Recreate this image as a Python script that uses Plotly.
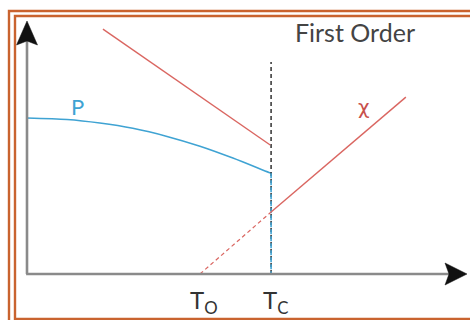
import plotly.graph_objects as go

# ---- data (conceptual units: T along x, response along y) ----
T_P = [0, 0.91, 1.66, 2.41, 3.19, 3.94, 4.69, 5.51, 5.56]
P_vals = [6.19, 6.13, 5.99, 5.78, 5.46, 5.07, 4.60, 4.03, 4.00]
Tc = 5.56
To = 3.94
chi_low_T = [1.73, 5.54]
chi_low = [9.72, 5.12]
chi_high_T = [5.56, 8.63]
chi_high = [2.46, 7.02]
chi_ext_T = [To, Tc]
chi_ext = [0, 2.46]
Tc_line_top = 8.41
tick_labels = ["T<sub>O</sub>", "T<sub>C</sub>"]
tick_pos = [To, Tc]

W, H = 470, 320
# axis scales: origin at pixel (27,274); 43.9 px per T unit, 25.2 px per y unit
X0, Y0, SX, SY = 27, 274, 43.9, 25.2
xr = [-X0 / SX, (W - X0) / SX]
yr = [-(H - Y0) / SY, Y0 / SY]

RED = "#DA6661"
BLUE = "#3FA3D3"
AX = "#8A8A8A"
ORANGE = "#C9632F"

fig = go.Figure()
fig.add_trace(go.Scatter(x=T_P, y=P_vals, mode="lines", line=dict(color=BLUE, width=1.6, shape="spline", smoothing=0.8), hoverinfo="skip"))
fig.add_trace(go.Scatter(x=[Tc, Tc], y=[0, Tc_line_top], mode="lines", line=dict(color="#222222", width=1.4, dash="4px,3px"), hoverinfo="skip"))
fig.add_trace(go.Scatter(x=[Tc, Tc], y=[P_vals[-1], 0], mode="lines", line=dict(color=BLUE, width=1.6, dash="5px,2px"), hoverinfo="skip"))
fig.add_trace(go.Scatter(x=chi_low_T, y=chi_low, mode="lines", line=dict(color=RED, width=1.4), hoverinfo="skip"))
fig.add_trace(go.Scatter(x=chi_high_T, y=chi_high, mode="lines", line=dict(color=RED, width=1.4), hoverinfo="skip"))
fig.add_trace(go.Scatter(x=chi_ext_T, y=chi_ext, mode="lines", line=dict(color=RED, width=1.2, dash="4px,3px"), hoverinfo="skip"))

def pp(x, y):
    return f"{x / W:.5f},{1 - y / H:.5f}"

shapes = []
# axes lines
shapes.append(dict(type="line", xref="x", yref="y", x0=0, y0=0, x1=0, y1=(Y0 - 40) / SY, line=dict(color=AX, width=2.6)))
shapes.append(dict(type="line", xref="x", yref="y", x0=-0.02, y0=0, x1=(450 - X0) / SX, y1=0, line=dict(color=AX, width=2.6)))
# arrowheads
shapes.append(dict(type="path", xref="paper", yref="paper",
                   path=f"M{pp(27,21)} L{pp(37.5,45)} L{pp(27,41)} L{pp(16.5,45)} Z",
                   fillcolor="#111111", line=dict(color="#111111", width=0.5)))
shapes.append(dict(type="path", xref="paper", yref="paper",
                   path=f"M{pp(467,274)} L{pp(445,263)} L{pp(449,274)} L{pp(445,285)} Z",
                   fillcolor="#111111", line=dict(color="#111111", width=0.5)))
# double orange frame
shapes.append(dict(type="path", xref="paper", yref="paper",
                   path=f"M{pp(9,330)} L{pp(9,11)} L{pp(480,11)}",
                   line=dict(color=ORANGE, width=2.4)))
shapes.append(dict(type="path", xref="paper", yref="paper",
                   path=f"M{pp(480,16)} L{pp(15,16)} L{pp(15,319)} L{pp(480,319)}",
                   line=dict(color=ORANGE, width=2.4)))

ann = []
ann.append(dict(x=355 / W, y=1 - 32 / H, xref="paper", yref="paper", xanchor="center", yanchor="middle",
                text="First Order", showarrow=False,
                font=dict(family="Lato", size=25, color="#444444")))
ann.append(dict(x=(77 - X0) / SX, y=(Y0 - 106) / SY, xanchor="center", yanchor="middle", text="P", showarrow=False,
                font=dict(family="Lato", size=22, color=BLUE)))
ann.append(dict(x=(364 - X0) / SX, y=(Y0 - 107) / SY, xanchor="center", yanchor="middle", text="χ", showarrow=False,
                font=dict(family="DejaVu Sans", size=20, color="#C8504B")))
for t, lab in zip(tick_pos, tick_labels):
    ann.append(dict(x=t + 0.1, y=-1.1, xanchor="center", yanchor="middle", text=lab, showarrow=False,
                    font=dict(family="Lato", size=24, color="#333333")))

fig.update_layout(
    width=W, height=H, margin=dict(l=0, r=0, t=0, b=0),
    paper_bgcolor="white", plot_bgcolor="white", showlegend=False,
    xaxis=dict(range=xr, visible=False, fixedrange=True),
    yaxis=dict(range=yr, visible=False, fixedrange=True),
    shapes=shapes, annotations=ann,
)
fig.write_html("out.html", config={"displayModeBar": False},
               post_script="document.body.style.margin='0';document.body.style.overflow='hidden';")
